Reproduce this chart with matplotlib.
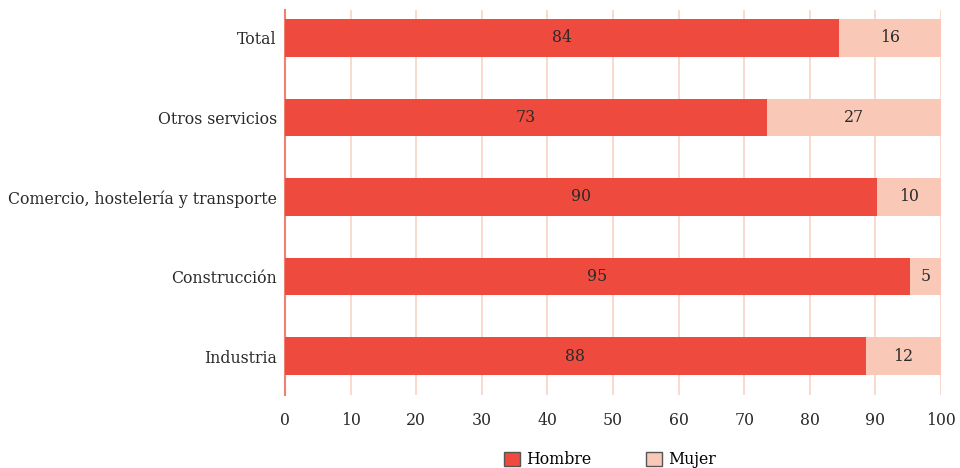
import numpy as np
import matplotlib
matplotlib.use('Agg')
import matplotlib.pyplot as plt
from matplotlib.patches import Patch

# Data (bottom to top)
categories = ['Industria', 'Construcción', 'Comercio, hostelería y transporte',
              'Otros servicios', 'Total']
hombre = [88.5, 95.2, 90.2, 73.4, 84.4]
mujer = [11.5, 4.8, 9.8, 26.6, 15.6]

c_hombre = '#EE4B3E'
c_mujer = '#F9C8B6'
c_grid = '#FAD5CA'
c_text = '#2a2a2a'

plt.rcParams['font.family'] = ['DejaVu Serif']
plt.rcParams['font.size'] = 11.3

fig = plt.figure(figsize=(9.6, 4.68), dpi=100)
ax = fig.add_axes([285 / 960, 1 - 395 / 468, 656 / 960, 385 / 468])

y = np.arange(len(categories))
ax.barh(y, hombre, height=0.47, color=c_hombre, zorder=3)
ax.barh(y, mujer, left=hombre, height=0.47, color=c_mujer, zorder=3)

# value labels
for i in range(len(categories)):
    ax.text(hombre[i] / 2, y[i], f'{round(hombre[i])}', ha='center', va='center',
            color=c_text, zorder=4)
    ax.text(hombre[i] + mujer[i] / 2, y[i], f'{round(mujer[i])}', ha='center',
            va='center', color=c_text, zorder=4)

ax.set_xlim(0, 100)
ax.set_ylim(-0.49, 4.35)
ax.set_xticks(np.arange(0, 101, 10))
ax.set_yticks(y)
ax.set_yticklabels(categories)
ax.grid(axis='x', color=c_grid, linewidth=1.3, zorder=0)
ax.tick_params(axis='both', length=0, colors=c_text, labelsize=11.3)
ax.tick_params(axis='x', pad=12)
ax.tick_params(axis='y', pad=6)
for s in ['top', 'right', 'bottom']:
    ax.spines[s].set_visible(False)
ax.spines['left'].set_color('#F08070')
ax.spines['left'].set_linewidth(1.5)

handles = [Patch(facecolor=c_hombre, edgecolor='#555555', label='Hombre'),
           Patch(facecolor=c_mujer, edgecolor='#555555', label='Mujer')]
fig.legend(handles=handles, loc='lower center', bbox_to_anchor=(610 / 960, -0.03),
           ncol=2, frameon=False, handlelength=1.0, handleheight=1.0,
           columnspacing=3.5, handletextpad=0.4, fontsize=11.3)

fig.savefig('out.png', dpi=100)
